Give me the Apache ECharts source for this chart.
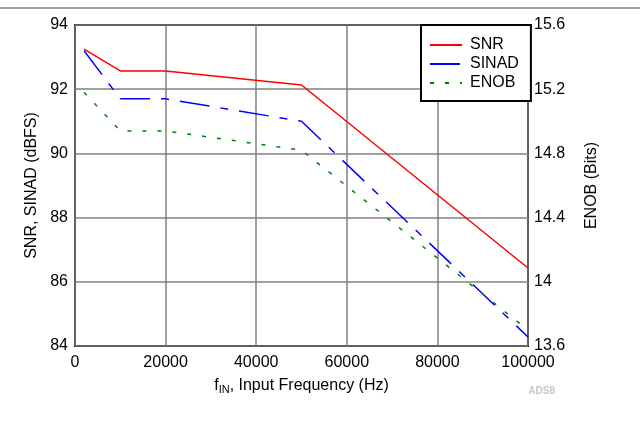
<!DOCTYPE html>
<html><head><meta charset="utf-8">
<script src="https://cdn.jsdelivr.net/npm/echarts@6/dist/echarts.min.js"></script>
<style>html,body{margin:0;padding:0;background:#fff}#c{width:640px;height:432px}</style>
</head><body><div id="c"></div>
<script>
const freq = [2000, 10000, 20000, 50000, 100000];
const snr = [93.25, 92.57, 92.57, 92.13, 86.43];
const sinad = [93.2, 91.7, 91.7, 91.0, 84.28];
const enob = [15.18, 14.94, 14.94, 14.82, 13.7];
const seriesNames = ['SNR', 'SINAD', 'ENOB'];

const FONT = '"Liberation Sans", Arial, sans-serif';
const pair = (xs, ys) => xs.map((x, i) => [x, ys[i]]);
const chart = echarts.init(document.getElementById('c'));
chart.setOption({
  animation: false,
  textStyle: { fontFamily: FONT },
  grid: { left: 75, right: 112, top: 25, bottom: 86, show: true, borderColor: '#000', borderWidth: 2, backgroundColor: 'transparent' },
  legend: {
    data: seriesNames,
    orient: 'vertical', left: 421, top: 25, width: 107,
    backgroundColor: '#fff', borderColor: '#000', borderWidth: 2,
    padding: [12, 12, 10, 8], itemGap: 3, itemWidth: 32, itemHeight: 16,
    itemStyle: { opacity: 0 },
    textStyle: { fontSize: 16, fontFamily: FONT, color: '#000', padding: [0, 0, 0, 3] },
    z: 10
  },
  xAxis: {
    type: 'value', min: 0, max: 100000, interval: 20000,
    name: '{a|f}{b|IN}{a|, Input Frequency (Hz)}', nameLocation: 'middle', nameGap: 30,
    nameTextStyle: { rich: { a: { fontSize: 16, fontFamily: FONT, color: '#000' }, b: { fontSize: 11, fontFamily: FONT, color: '#000', padding: [8, 0, 0, 0] } } },
    axisLine: { show: false }, axisTick: { show: false },
    axisLabel: { fontSize: 16, color: '#000', margin: 9, formatter: v => String(v) },
    splitLine: { lineStyle: { color: '#808080', width: 1.5 } }
  },
  yAxis: [{
    type: 'value', min: 84, max: 94, interval: 2, position: 'left',
    name: 'SNR, SINAD (dBFS)', nameLocation: 'middle', nameGap: 34, nameRotate: 90,
    nameTextStyle: { fontSize: 16, color: '#000' },
    axisLine: { show: false }, axisTick: { show: false },
    axisLabel: { fontSize: 16, color: '#000', margin: 7 },
    splitLine: { lineStyle: { color: '#808080', width: 1.5 } }
  }, {
    type: 'value', min: 13.6, max: 15.6, interval: 0.4, position: 'right',
    name: 'ENOB (Bits)', nameLocation: 'middle', nameGap: 56, nameRotate: 90,
    nameTextStyle: { fontSize: 16, color: '#000' },
    axisLine: { show: false }, axisTick: { show: false },
    axisLabel: { fontSize: 16, color: '#000', margin: 6, formatter: v => String(Math.round(v * 10) / 10) },
    splitLine: { show: false }
  }],
  series: [
    { name: seriesNames[0], type: 'line', yAxisIndex: 0, data: pair(freq, snr), showSymbol: false, symbol: 'none',
      lineStyle: { color: '#ff0000', width: 1.5 }, itemStyle: { color: '#ff0000' } },
    { name: seriesNames[1], type: 'line', yAxisIndex: 0, data: pair(freq, sinad), showSymbol: false, symbol: 'none',
      lineStyle: { color: '#0000ff', width: 1.5, type: [30, 11, 8, 11] }, itemStyle: { color: '#0000ff' } },
    { name: seriesNames[2], type: 'line', yAxisIndex: 1, data: pair(freq, enob), showSymbol: false, symbol: 'none',
      lineStyle: { color: '#008000', width: 1.5, type: [4, 11] }, itemStyle: { color: '#008000' } }
  ],
  graphic: [
    { type: 'line', shape: { x1: 0, y1: 8, x2: 640, y2: 8 }, style: { stroke: '#808080', lineWidth: 1.5 } },
    { type: 'text', right: 85, top: 386, style: { text: 'ADS8', fontSize: 10, fontWeight: 'bold', fontFamily: FONT, fill: '#c8c8c8' } }
  ]
});
</script></body></html>
